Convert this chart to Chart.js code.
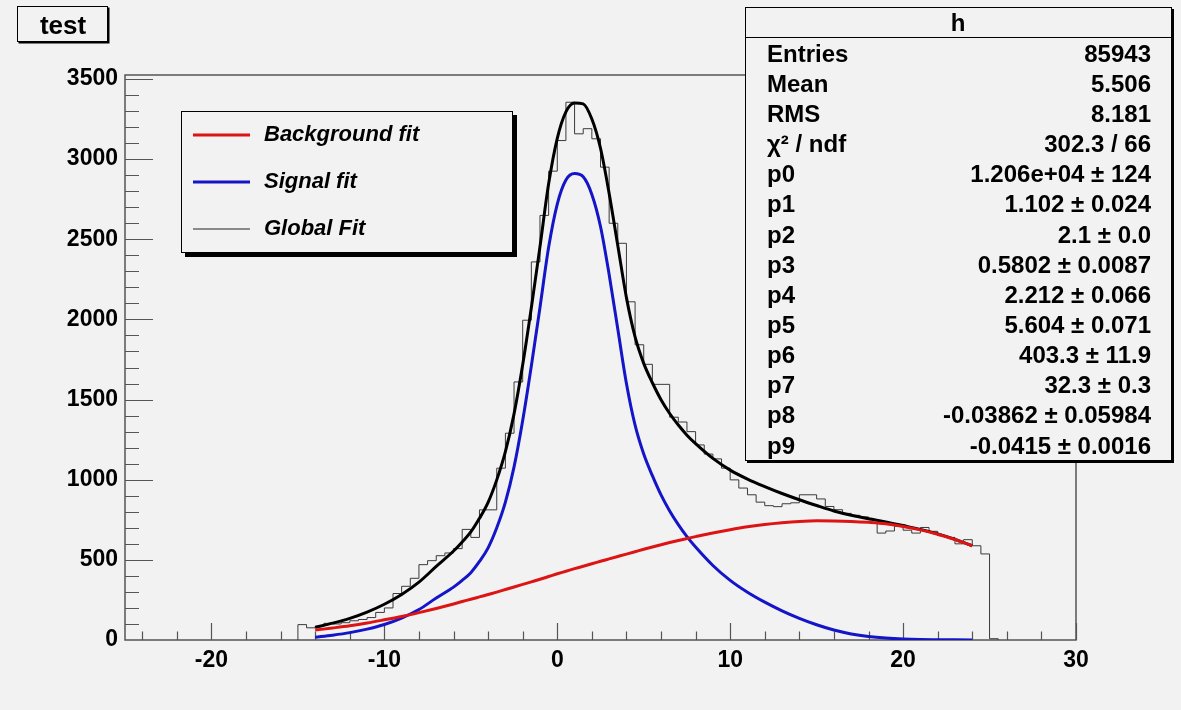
<!DOCTYPE html>
<html>
<head>
<meta charset="utf-8">
<script src="https://cdn.jsdelivr.net/npm/chart.js@4.4.0/dist/chart.umd.min.js"></script>
<style>
  html, body { margin: 0; padding: 0; background: #f2f2f2; }
  canvas { display: block; }
</style>
</head>
<body>
<canvas id="chartCanvas" width="1181" height="710"></canvas>
<script>
// histogram "h": lower edge of first bin, bin width, bin contents
const histStart = -15;
const binWidth = 0.5;
const histCounts = [96, 76, 86, 104, 100, 108, 120, 128, 140, 172,
    200, 290, 335, 385, 470, 495, 526, 543, 570, 690,
    640, 812, 812, 1072, 1290, 1610, 1995, 2359, 2649, 2925,
    3116, 3355, 3158, 3190, 3127, 2950, 2600, 2475, 2110, 1842,
    1720, 1595, 1595, 1390, 1360, 1300, 1217, 1160, 1130, 1072,
    999, 948, 906, 860, 838, 832, 850, 856, 906, 906,
    880, 833, 813, 790, 778, 768, 750, 667, 680, 710,
    685, 667, 702, 678, 651, 640, 600, 626, 588, 537, 8];

// fitted functions sampled along x
const fitX = [-14, -13, -12, -11, -10, -9, -8, -7, -6,
    -5.5, -5, -4.5, -4, -3.5, -3, -2.5, -2, -1.5, -1, -0.5, 0, 0.5, 1, 1.5, 2, 2.5, 3, 3.5, 4,
    4.5, 5, 5.5, 6, 6.5, 7, 7.5, 8,
    9, 10, 11, 12, 13, 14, 15, 16, 17, 18, 19, 20, 21, 22, 23, 24];
const bkgFit = [62, 75, 89, 106, 126, 147, 171, 197, 225,
    240, 254, 269, 284, 299, 315, 331, 347, 363, 379, 396, 413, 429, 445, 460, 476, 491, 506, 521, 536,
    551, 566, 580, 594, 608, 621, 633, 645,
    668, 688, 706, 721, 732, 740, 744, 743, 740, 734, 725, 708, 687, 660, 627, 588];
const sigFit = [17, 30, 46, 68, 97, 137, 190, 262, 330,
    372, 420, 490, 575, 700, 860, 1080, 1370, 1710, 2075, 2450, 2720, 2870, 2910, 2890, 2780, 2580, 2280, 1940, 1600,
    1340, 1160, 1025, 905, 805, 720, 645, 580,
    465, 372, 298, 236, 182, 135, 95, 62, 38, 22, 12, 6, 3, 2, 1, 0];
const globalFit = [79, 105, 135, 174, 223, 284, 361, 459, 555,
    612, 674, 759, 859, 999, 1175, 1411, 1717, 2073, 2454, 2846, 3130, 3295, 3350, 3345, 3250, 3068, 2786, 2461, 2136,
    1891, 1726, 1605, 1499, 1413, 1341, 1278, 1225,
    1133, 1060, 1004, 957, 914, 875, 839, 805, 778, 756, 737, 714, 690, 662, 628, 588];

const xTicks = [-20, -10, 0, 10, 20, 30];
const yTicks = [0, 500, 1000, 1500, 2000, 2500, 3000, 3500];
const xMinorStep = 2;
const yMinorStep = 100;

const titleText = 'test';
const legendLabels = ['Background fit', 'Signal fit', 'Global Fit'];
const statsTitle = 'h';
const statsNames = ['Entries', 'Mean', 'RMS', 'χ² / ndf', 'p0', 'p1', 'p2', 'p3', 'p4', 'p5', 'p6', 'p7', 'p8', 'p9'];
const statsValues = ['85943', '5.506', '8.181', '302.3 / 66', '1.206e+04 ± 124', '1.102 ± 0.024', '2.1 ± 0.0',
    '0.5802 ± 0.0087', '2.212 ± 0.066', '5.604 ± 0.071', '403.3 ± 11.9', '32.3 ± 0.3',
    '-0.03862 ± 0.05984', '-0.0415 ± 0.0016'];

const FONT = '"Liberation Sans", Arial, sans-serif';
const BG = '#f2f2f2';
const RED = '#dd1414';
const BLUE = '#1414c8';

function histPoints() {
    const pts = [{x: histStart, y: 0}];
    histCounts.forEach((c, i) => pts.push({x: histStart + i * binWidth, y: c}));
    pts.push({x: histStart + histCounts.length * binWidth, y: 0});
    return pts;
}

function curve(values) {
    return fitX.map((x, i) => ({x: x, y: values[i]}));
}

function drawBox(ctx, l, t, r, b, shadow) {
    ctx.fillStyle = '#000';
    ctx.fillRect(l + shadow, t + shadow, r - l, b - t);
    ctx.fillStyle = BG;
    ctx.fillRect(l, t, r - l, b - t);
    ctx.strokeStyle = '#000';
    ctx.lineWidth = 1;
    ctx.strokeRect(l + 0.5, t + 0.5, r - l - 1, b - t - 1);
}

const rootDecor = {
    id: 'rootDecor',
    beforeDraw(chart) {
        const ctx = chart.ctx;
        ctx.save();
        ctx.fillStyle = BG;
        ctx.fillRect(0, 0, chart.width, chart.height);
        ctx.restore();
    },
    beforeDatasetsDraw(chart) {
        const {ctx, chartArea: a, scales: {x, y}} = chart;
        ctx.save();
        ctx.strokeStyle = '#555';
        ctx.lineWidth = 1.5;
        ctx.strokeRect(a.left, a.top, a.right - a.left, a.bottom - a.top);
        ctx.beginPath();
        for (let v = x.min + 1; v <= x.max; v += xMinorStep) {
            const px = Math.round(x.getPixelForValue(v)) + 0.5;
            const len = xTicks.includes(v) ? 17 : 8.5;
            ctx.moveTo(px, a.bottom);
            ctx.lineTo(px, a.bottom - len);
        }
        for (let v = yMinorStep; v <= yTicks[yTicks.length - 1]; v += yMinorStep) {
            const py = Math.round(y.getPixelForValue(v)) + 0.5;
            const len = yTicks.includes(v) ? 28 : 14;
            ctx.moveTo(a.left, py);
            ctx.lineTo(a.left + len, py);
        }
        ctx.lineWidth = 1.2;
        ctx.stroke();
        ctx.restore();
    },
    afterDraw(chart) {
        const ctx = chart.ctx;
        ctx.save();

        // title box
        drawBox(ctx, 17, 6, 108, 42, 1.5);
        ctx.fillStyle = '#000';
        ctx.font = 'bold 26px ' + FONT;
        ctx.textAlign = 'center';
        ctx.textBaseline = 'middle';
        ctx.fillText(titleText, 63, 27);

        // legend
        drawBox(ctx, 181, 111, 513, 253, 4);
        const legendColors = [RED, BLUE, '#222'];
        const legendWidths = [3, 3, 1];
        ctx.font = 'italic bold 22px ' + FONT;
        ctx.textAlign = 'left';
        legendLabels.forEach((label, i) => {
            const yy = 135 + i * 47;
            ctx.strokeStyle = legendColors[i];
            ctx.lineWidth = legendWidths[i];
            ctx.beginPath();
            ctx.moveTo(193, yy);
            ctx.lineTo(250, yy);
            ctx.stroke();
            ctx.fillStyle = '#000';
            ctx.fillText(label, 264, yy);
        });

        // stats box
        drawBox(ctx, 745, 7, 1172, 461, 2);
        ctx.strokeStyle = '#000';
        ctx.lineWidth = 1;
        ctx.beginPath();
        ctx.moveTo(745, 37.5);
        ctx.lineTo(1172, 37.5);
        ctx.stroke();
        ctx.fillStyle = '#000';
        ctx.font = 'bold 24px ' + FONT;
        ctx.textAlign = 'center';
        ctx.fillText(statsTitle, 958, 24);
        statsNames.forEach((name, i) => {
            const yy = 55 + i * 30.15;
            ctx.textAlign = 'left';
            ctx.fillText(name, 767, yy);
            ctx.textAlign = 'right';
            ctx.fillText(statsValues[i], 1151, yy);
        });
        ctx.restore();
    }
};

const tickFont = {family: FONT, size: 23, weight: 'bold'};

new Chart(document.getElementById('chartCanvas').getContext('2d'), {
    type: 'scatter',
    data: {
        datasets: [
            {
                label: 'h',
                type: 'line',
                data: histPoints(),
                stepped: true,
                borderColor: '#3a3a3a',
                borderWidth: 1,
                pointRadius: 0,
                fill: false,
                order: 4
            },
            {
                label: legendLabels[2],
                type: 'line',
                data: curve(globalFit),
                borderColor: '#000',
                borderWidth: 3,
                pointRadius: 0,
                cubicInterpolationMode: 'monotone',
                fill: false,
                order: 3
            },
            {
                label: legendLabels[1],
                type: 'line',
                data: curve(sigFit),
                borderColor: BLUE,
                borderWidth: 3,
                pointRadius: 0,
                cubicInterpolationMode: 'monotone',
                fill: false,
                order: 2
            },
            {
                label: legendLabels[0],
                type: 'line',
                data: curve(bkgFit),
                borderColor: RED,
                borderWidth: 3,
                pointRadius: 0,
                cubicInterpolationMode: 'monotone',
                fill: false,
                order: 1
            }
        ]
    },
    options: {
        responsive: false,
        animation: false,
        events: [],
        layout: {padding: {left: 0, top: 75, right: 105, bottom: 0}},
        plugins: {
            legend: {display: false},
            tooltip: {enabled: false}
        },
        scales: {
            x: {
                type: 'linear',
                min: -25,
                max: 30,
                afterBuildTicks: s => { s.ticks = xTicks.map(v => ({value: v})); },
                afterFit: s => { s.height = 70; },
                grid: {display: false, drawTicks: false},
                border: {display: false},
                ticks: {color: '#000', font: tickFont, padding: 7, maxRotation: 0, callback: v => String(v)}
            },
            y: {
                type: 'linear',
                min: 0,
                max: 3525,
                afterBuildTicks: s => { s.ticks = yTicks.map(v => ({value: v})); },
                afterFit: s => { s.width = 125; },
                grid: {display: false, drawTicks: false},
                border: {display: false},
                ticks: {color: '#000', font: tickFont, padding: 7, callback: v => String(v)}
            }
        }
    },
    plugins: [rootDecor]
});
</script>
</body>
</html>
